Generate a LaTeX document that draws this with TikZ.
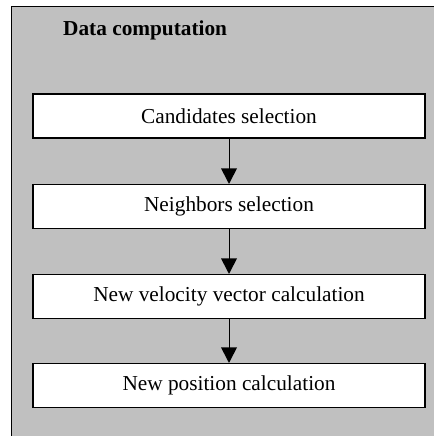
\documentclass[tikz,border=0pt]{standalone}
\usepackage{fontspec}
\setmainfont{Liberation Serif}
\usetikzlibrary{calc}
\begin{document}
\begin{tikzpicture}[x=1pt,y=1pt,
  panel/.style={fill={rgb,255:red,192;green,192;blue,192}},
  stepbox/.style={draw=black,line width=1.1pt,fill=white,minimum width=392pt,minimum height=44pt,
    inner sep=0pt,font=\fontsize{21.3}{24}\selectfont},
  flowline/.style={line width=1pt},
  flowhead/.style={fill=black}]
  \useasboundingbox (0,-436) rectangle (434,0);
  % grey panel with its top and left border
  \fill[panel] (11.5,-6.5) rectangle (434,-436);
  \draw[line width=1.3pt] (11.5,-436) -- (11.5,-6.5) -- (434,-6.5);
  \node[anchor=base west,inner sep=0pt,font=\bfseries\fontsize{21.3}{24}\selectfont] (title) at (63,-36) {Data computation};
  % processing steps
  \node[stepbox] (cand) at (229,-116) {Candidates selection};
  \node[stepbox] (neigh) at (229,-206.5) {Neighbors selection};
  \node[stepbox] (vel) at (229,-296.5) {New velocity vector calculation};
  \node[stepbox] (pos) at (229,-385.5) {New position calculation};
  % connectors: a stem and a filled triangular head touching the next box
  \foreach \a/\b in {cand/neigh,neigh/vel,vel/pos}{
    \draw[flowline] (\a.south) -- ($(\b.north)+(0,14)$);
    \fill[flowhead] ($(\b.north)+(-8,15.5)$) -- (\b.north) -- ($(\b.north)+(8,15.5)$) -- cycle;
  }
\end{tikzpicture}
\end{document}
